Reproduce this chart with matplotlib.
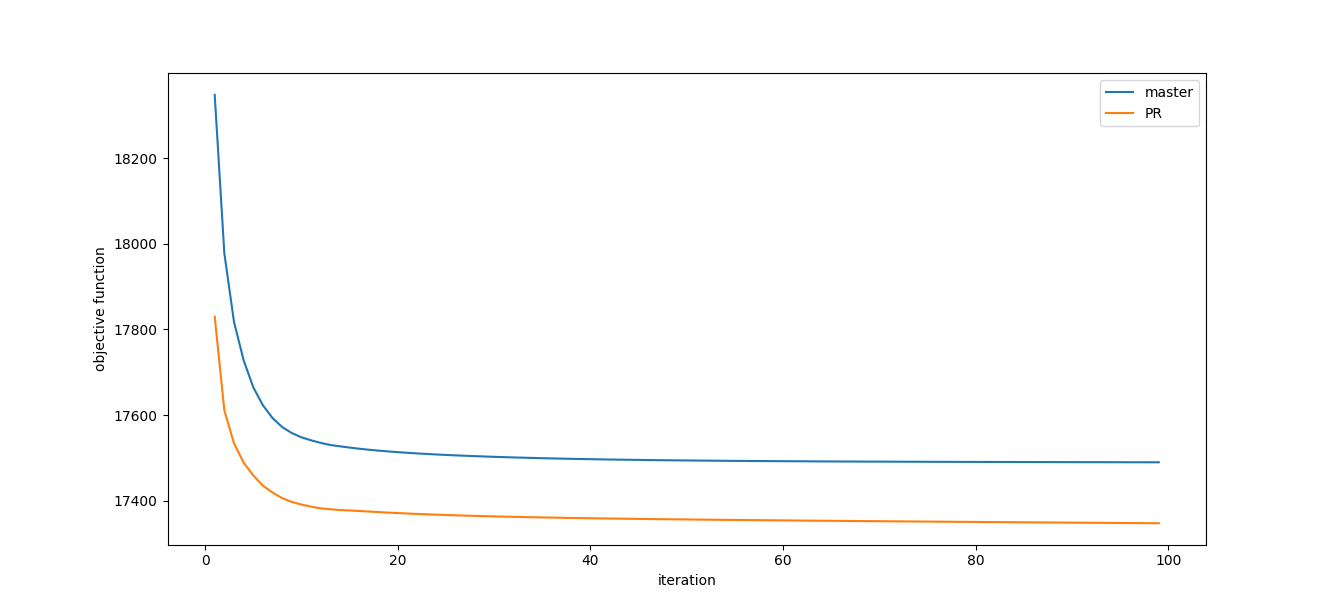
import matplotlib
matplotlib.use("Agg")
import matplotlib.pyplot as plt

# iterations 1..99
iteration = list(range(1, 100))

# objective function values
master = [
    18348, 17978, 17818, 17728, 17665, 17623, 17593, 17572, 17558, 17548,
    17541, 17535, 17530, 17527, 17524, 17521.3, 17519.0, 17516.9, 17515.0, 17513.3,
    17511.8, 17510.4, 17509.1, 17507.9, 17506.8, 17505.8, 17504.9, 17504.0, 17503.2, 17502.4,
    17501.7, 17501.0, 17500.4, 17499.8, 17499.2, 17498.7, 17498.2, 17497.7, 17497.3, 17496.9,
    17496.5, 17496.1, 17495.8, 17495.5, 17495.2, 17494.9, 17494.6, 17494.4, 17494.1, 17493.9,
    17493.7, 17493.5, 17493.3, 17493.1, 17492.9, 17492.8, 17492.6, 17492.5, 17492.3, 17492.2,
    17492.1, 17492.0, 17491.8, 17491.7, 17491.6, 17491.5, 17491.4, 17491.3, 17491.2, 17491.2,
    17491.1, 17491.0, 17490.9, 17490.9, 17490.8, 17490.7, 17490.7, 17490.6, 17490.5, 17490.5,
    17490.4, 17490.4, 17490.3, 17490.3, 17490.2, 17490.2, 17490.1, 17490.1, 17490.0, 17490.0,
    17489.9, 17489.9, 17489.9, 17489.8, 17489.8, 17489.7, 17489.7, 17489.7, 17489.6,
]

pr = [
    17830, 17611, 17534, 17489, 17459, 17435, 17419, 17406, 17397, 17391,
    17386, 17382, 17380, 17378, 17377, 17375.9, 17374.6, 17373.3, 17372.1, 17371.0,
    17370.0, 17369.0, 17368.1, 17367.3, 17366.5, 17365.8, 17365.1, 17364.4, 17363.8, 17363.2,
    17362.7, 17362.2, 17361.7, 17361.2, 17360.8, 17360.4, 17360.0, 17359.6, 17359.2, 17358.9,
    17358.6, 17358.3, 17358.0, 17357.7, 17357.4, 17357.1, 17356.8, 17356.6, 17356.3, 17356.1,
    17355.8, 17355.6, 17355.4, 17355.1, 17354.9, 17354.7, 17354.5, 17354.3, 17354.1, 17353.9,
    17353.7, 17353.5, 17353.3, 17353.1, 17352.9, 17352.7, 17352.5, 17352.3, 17352.2, 17352.0,
    17351.8, 17351.6, 17351.5, 17351.3, 17351.1, 17350.9, 17350.8, 17350.6, 17350.4, 17350.3,
    17350.1, 17349.9, 17349.8, 17349.6, 17349.4, 17349.3, 17349.1, 17349.0, 17348.8, 17348.6,
    17348.5, 17348.3, 17348.2, 17348.0, 17347.8, 17347.7, 17347.5, 17347.4, 17347.2,
]

fig, ax = plt.subplots(figsize=(13.4, 6.12), dpi=100)
ax.plot(iteration, master, label="master")
ax.plot(iteration, pr, label="PR")
ax.set_xlabel("iteration")
ax.set_ylabel("objective function")
ax.legend()
fig.savefig("out.png", dpi=100)
